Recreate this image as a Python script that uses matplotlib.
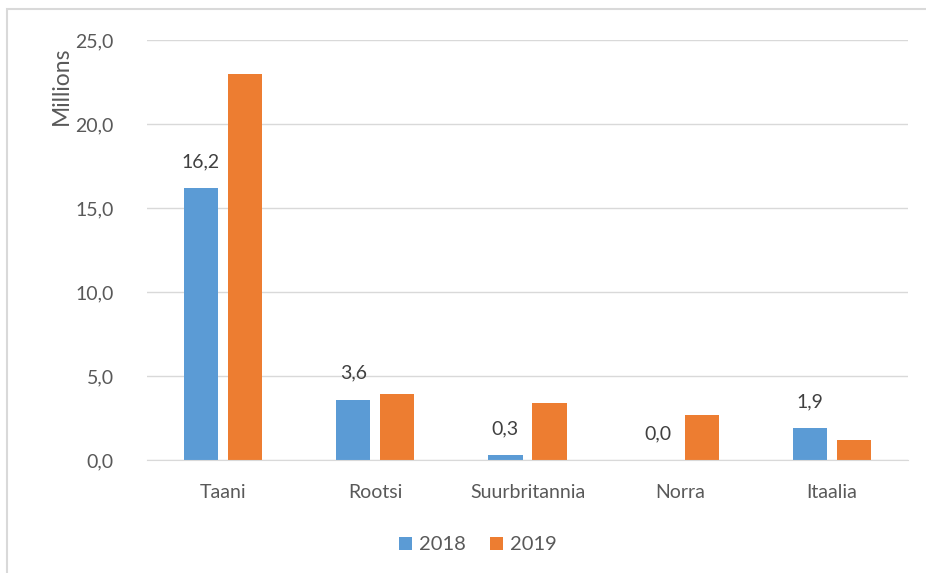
import matplotlib.pyplot as plt
import numpy as np
from matplotlib.patches import Rectangle

# data
countries = ['Taani', 'Rootsi', 'Suurbritannia', 'Norra', 'Itaalia']
values_2018 = [16.2, 3.6, 0.3, 0.0, 1.9]
values_2019 = [23.0, 3.9, 3.4, 2.7, 1.2]
years = ['2018', '2019']

blue = '#5B9BD5'
orange = '#ED7D31'
text_col = '#595959'
grid_col = '#D9D9D9'

plt.rcParams['font.family'] = ['Lato', 'DejaVu Sans']

fig = plt.figure(figsize=(9.26, 5.73), dpi=100)
ax = fig.add_axes([147 / 926, 1 - 460 / 573, (908 - 147) / 926, (460 - 40) / 573])

x = np.arange(len(countries))
w = 0.225
off = 0.145
b1 = ax.bar(x - off, values_2018, w, color=blue, label=years[0], zorder=3)
b2 = ax.bar(x + off, values_2019, w, color=orange, label=years[1], zorder=3)

# labels only on the 2018 series
for xi, v in zip(x - off, values_2018):
    ax.annotate(f'{v:.1f}'.replace('.', ','), (xi, v), xytext=(0, 19),
                textcoords='offset points', ha='center', va='center',
                fontsize=14, color='#404040')

ax.set_xlim(-0.5, len(countries) - 0.5)
ax.set_ylim(0, 25)
ax.set_yticks(np.arange(0, 26, 5))
ax.set_yticklabels([f'{t:.1f}'.replace('.', ',') for t in np.arange(0, 26, 5)])
ax.set_xticks(x)
ax.set_xticklabels(countries)
ax.tick_params(axis='both', length=0, labelsize=14, colors=text_col)
ax.tick_params(axis='x', pad=17)
ax.tick_params(axis='y', pad=24)
ax.grid(axis='y', color=grid_col, linewidth=1, zorder=0)
for s in ['top', 'right', 'left']:
    ax.spines[s].set_visible(False)
ax.spines['bottom'].set_color(grid_col)
ax.spines['bottom'].set_zorder(4)

ax.text(61 / 926, 1 - 86 / 573, 'Millions', transform=fig.transFigure, rotation=90,
        ha='center', va='center', fontsize=16.5, color=text_col)

fig.legend(handles=[b1, b2], loc='center', bbox_to_anchor=(478 / 926, 1 - 545 / 573),
           ncol=2, frameon=False, fontsize=14.5, handlelength=0.65, handleheight=0.65,
           columnspacing=1.2, handletextpad=0.35, labelcolor=text_col)

# chart frame (runs off the right and bottom edges)
fig.patches.append(Rectangle((7 / 926, -0.1), 1.0, 1 - 9.5 / 573 + 0.1,
                             transform=fig.transFigure, fill=False,
                             edgecolor=grid_col, linewidth=1.5))

fig.savefig('out.png', dpi=100)
